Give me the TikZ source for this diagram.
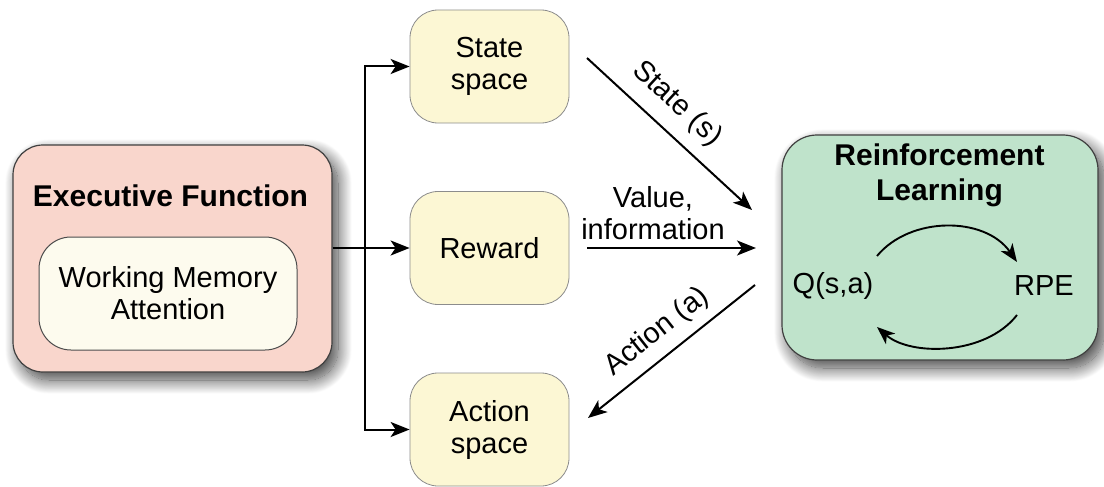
\documentclass[tikz,border=0pt]{standalone}
\usepackage{fontspec}
\setmainfont{Liberation Sans}
\usetikzlibrary{arrows.meta,shadows.blur}
\definecolor{efpink}{HTML}{F9D6CC}
\definecolor{efinner}{HTML}{FDFBEE}
\definecolor{boxyellow}{HTML}{FCF7D4}
\definecolor{rlgreen}{HTML}{BFE3CB}
\tikzset{
  bigbox/.style={rounded corners=30pt, draw=black!75, line width=1.2pt,
    blur shadow={shadow xshift=6pt, shadow yshift=-8pt, shadow blur radius=14pt,
      shadow blur steps=20, shadow opacity=75}},
  ybox/.style={rounded corners=28pt, draw=black!45, line width=0.8pt, fill=boxyellow,
    minimum width=159pt, minimum height=113pt, inner sep=0pt,
    font=\fontsize{29}{32}\selectfont, align=center},
  inbox/.style={rounded corners=32pt, draw=black!70, line width=1pt, fill=efinner,
    minimum width=258pt, minimum height=113pt, inner sep=0pt},
  reg/.style={font=\fontsize{29}{32}\selectfont, align=center, inner sep=0pt},
  ttl/.style={font=\bfseries\fontsize{30}{35}\selectfont, align=center, inner sep=0pt},
  arr/.style={line width=2pt, -{Stealth[length=19pt,width=15pt,inset=5pt]}},
  carr/.style={line width=1.9pt, -{Stealth[length=18pt,width=14pt,inset=5pt]}},
  ln/.style={line width=2pt}
}
\begin{document}
\begin{tikzpicture}[x=1pt,y=-1pt]
\useasboundingbox (0,0) rectangle (1104,487);
% Executive function
\node[bigbox, fill=efpink, minimum width=319pt, minimum height=227pt] (ef) at (172.5,258.5) {};
\node[ttl, anchor=base] (eft) at (170.5,206) {Executive Function};
\node[inbox] (efin) at (168,293.5) {};
\node[reg] (eftxt) at (168,293) {Working Memory\\Attention};
% middle boxes
\node[ybox] (state) at (489.5,66.5) {State\\space};
\node[ybox] (reward) at (489.5,248) {Reward};
\node[ybox] (action) at (489.5,429.5) {Action\\space};
% RL box
\node[bigbox, rounded corners=35pt, fill=rlgreen, minimum width=316pt, minimum height=225pt] (rl) at (940,247.5) {};
\node[ttl] (rlt) at (939.5,175) {Reinforcement\\Learning};
\node[reg] (q) at (833,286) {Q(s,a)};
\node[reg] (rpe) at (1044,286) {RPE};
% branching arrows
\coordinate (tr) at (365,248);
\draw[ln] (ef.east |- reward.west) -- (tr);
\draw[arr] (tr) -- (reward.west);
\draw[arr] (tr) |- (state.west);
\draw[arr] (tr) |- (action.west);
% middle arrows
\coordinate (s1) at (587,58);
\coordinate (s2) at (752,210);
\coordinate (v1) at (587,248);
\coordinate (v2) at (756,248);
\coordinate (a1) at (755,285);
\coordinate (a2) at (588,418);
\draw[arr] (s1) -- (s2);
\draw[arr] (v1) -- (v2);
\draw[arr] (a1) -- (a2);
\node[reg, rotate=-42.6] (sl) at (677,104) {State (s)};
\node[reg] (vl) at (653,213) {Value,\\information};
\node[reg, rotate=38.5] (al) at (657,332) {Action (a)};
% RL cycle
\coordinate (c1) at (877,256);
\coordinate (c2) at (1017,262);
\coordinate (c3) at (1017,315);
\coordinate (c4) at (877,327);
\draw[carr] (c1) .. controls (910,216) and (985,216) .. (c2);
\draw[carr] (c3) .. controls (985,356) and (910,356) .. (c4);
\end{tikzpicture}
\end{document}
